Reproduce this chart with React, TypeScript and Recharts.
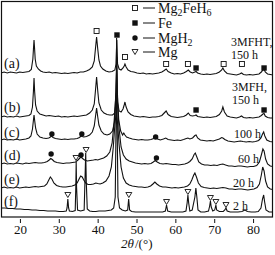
import { ComposedChart, Line, Scatter, XAxis, YAxis } from "recharts";

const W = 275;
const H = 255;
const FONT = '"Liberation Serif", "Times New Roman", serif';
const INK = "#111";

const angleTicks = [20, 30, 40, 50, 60, 70, 80];

// [2θ, intensity] with each trace's vertical offset already included
const patternA: [number, number][] = [
  [15, 144], [15.8, 145], [16.6, 144], [17.4, 145], [18.2, 144.5], [19, 144], [19.8, 145], [20.6, 144.5],
  [21.4, 145], [22.2, 145.5], [22.8, 147.5], [23.2, 158], [23.35, 168], [23.5, 177], [23.65, 168], [23.8, 158],
  [24.1, 151], [24.6, 148], [25.2, 146], [25.8, 145], [26.6, 144.5], [27.4, 145], [28.2, 144], [29, 144.5],
  [29.8, 144], [30.6, 143.5], [31.4, 144], [32.2, 143.5], [33, 144], [33.8, 144.5], [34.6, 144], [35.4, 145],
  [36.2, 145], [37, 146], [37.8, 147.5], [38.5, 150], [39, 156], [39.3, 168], [39.6, 180], [39.9, 168],
  [40.2, 157], [40.6, 151], [41.2, 148], [42, 146], [42.8, 145], [43.6, 145.5], [44.3, 147], [44.6, 153],
  [44.8, 177], [45, 153], [45.4, 148], [45.9, 147], [46.4, 149], [46.7, 151], [46.9, 153], [47.2, 150],
  [47.7, 147], [48.4, 145.5], [49.2, 145], [50, 144], [50.8, 143.5], [51.6, 144], [52.4, 143], [53.2, 143.5],
  [54, 143], [54.8, 143.5], [55.6, 144], [56.4, 145], [57, 146.5], [57.5, 148], [58, 145.5], [58.8, 144],
  [59.6, 143], [60.4, 143.5], [61.2, 143], [62, 144], [62.7, 145.5], [63.2, 147], [63.7, 145], [64.3, 144],
  [64.9, 145], [65.2, 145.5], [65.6, 144], [66.4, 143], [67.2, 142.5], [68, 143], [68.8, 142.5], [69.6, 143],
  [70.4, 143.5], [71.2, 145], [71.8, 147], [72.1, 149], [72.5, 146], [73.2, 143.5], [74, 143], [74.8, 142.5],
  [75.6, 142], [76.4, 143], [76.9, 144], [77.4, 142.5], [78.2, 142], [79, 142.5], [79.8, 142], [80.6, 142.5],
  [81.4, 143], [82, 145], [82.4, 147], [82.7, 148], [83, 145], [83.6, 143], [84.3, 142.5], [85, 142],
];

const patternB: [number, number][] = [
  [15, 100], [15.8, 101], [16.6, 100], [17.4, 100.5], [18.2, 100], [19, 101], [19.8, 100], [20.6, 100.5],
  [21.4, 101], [22.2, 101.5], [22.7, 103], [23.1, 110], [23.35, 126], [23.5, 139], [23.65, 126], [23.9, 112],
  [24.3, 106], [25, 103], [25.8, 102], [26.6, 101], [27.4, 101.5], [28.2, 101], [29, 100.5], [29.8, 101],
  [30.6, 100], [31.4, 100.5], [32.2, 100], [33, 100.5], [33.8, 101], [34.6, 100.5], [35.4, 101], [36.2, 101.5],
  [37, 102], [37.8, 104], [38.5, 107], [39, 113], [39.3, 126], [39.6, 140], [39.9, 126], [40.2, 114],
  [40.8, 107], [41.5, 104], [42.3, 102.5], [43, 102], [43.7, 102], [44.3, 104], [44.6, 115], [44.8, 160],
  [45, 115], [45.4, 106], [45.9, 105], [46.4, 108], [46.7, 112], [46.9, 115], [47.2, 110], [47.7, 105],
  [48.4, 102.5], [49.2, 101], [50, 100.5], [50.8, 100], [51.6, 100.5], [52.4, 100], [53.2, 99.5], [54, 100],
  [54.8, 100], [55.6, 100.5], [56.4, 101.5], [57, 104], [57.5, 106], [58, 102.5], [58.8, 100.5], [59.6, 100],
  [60.4, 99.5], [61.2, 100], [62, 100.5], [62.7, 102], [63.2, 104], [63.7, 101.5], [64.3, 101], [64.9, 101.5],
  [65.2, 102], [65.6, 100.5], [66.4, 100], [67.2, 99.5], [68, 100], [68.8, 99.5], [69.6, 100], [70.4, 100.5],
  [71.2, 102.5], [71.8, 106], [72.1, 110], [72.5, 105], [73.2, 101], [74, 100], [74.8, 99.5], [75.6, 99],
  [76.4, 100], [76.9, 101], [77.4, 99.5], [78.2, 99], [79, 99.5], [79.8, 99], [80.6, 99.5], [81.4, 100],
  [82, 101.5], [82.4, 103], [82.7, 103.5], [83, 101], [83.6, 99.5], [84.3, 99], [85, 99],
];

const patternC: [number, number][] = [
  [15, 77], [15.8, 78], [16.6, 77], [17.4, 77.5], [18.2, 77], [19, 78], [19.8, 77], [20.6, 77.5],
  [21.4, 78], [22.2, 79], [22.7, 81], [23.1, 88], [23.35, 97], [23.5, 102], [23.65, 97], [23.9, 89],
  [24.3, 83], [25, 80], [25.8, 79], [26.6, 78.5], [27.3, 79], [27.7, 80], [28, 81], [28.4, 79.5],
  [29, 78.5], [29.8, 78], [30.6, 77.5], [31.4, 78], [32.2, 77.5], [33, 78], [33.8, 78], [34.6, 78.5],
  [35.2, 79.5], [35.6, 81], [35.9, 80.5], [36.3, 80], [37, 80.5], [37.8, 82], [38.5, 85], [39, 91],
  [39.3, 100], [39.6, 109], [39.9, 100], [40.2, 92], [40.8, 86], [41.5, 83], [42.3, 82], [43, 83],
  [43.7, 86], [44.2, 95], [44.5, 120], [44.75, 147], [45, 120], [45.3, 97], [45.8, 86], [46.3, 82],
  [46.6, 84], [46.9, 82], [47.3, 80], [48, 79], [48.8, 78], [49.6, 77.5], [50.4, 77], [51.2, 77.5],
  [52, 77], [52.8, 77], [53.6, 77.5], [54.3, 78.5], [54.8, 79.5], [55.3, 78], [56, 77], [56.8, 78],
  [57.4, 79], [58, 77.5], [58.8, 77], [59.6, 76.5], [60.4, 77], [61.2, 76.5], [62, 77.5], [62.7, 78.5],
  [63.1, 79], [63.6, 78], [64.3, 79], [64.9, 81.5], [65.2, 82], [65.6, 79], [66.3, 77], [67.2, 76.5],
  [68, 76], [68.8, 76.5], [69.6, 76], [70.4, 77], [71.2, 78], [71.8, 79.5], [72.1, 79], [72.6, 77.5],
  [73.4, 76], [74.2, 75.5], [75, 75], [75.8, 75.5], [76.6, 76], [77.3, 75.5], [78.1, 75], [78.9, 75.5],
  [79.7, 75], [80.5, 75.5], [81.3, 76.5], [81.9, 79], [82.3, 83], [82.6, 85], [82.9, 81], [83.4, 77],
  [84.2, 75.5], [85, 75],
];

const patternD: [number, number][] = [
  [15, 53], [15.8, 54], [16.6, 53], [17.4, 53.5], [18.2, 53], [19, 54], [19.8, 53.5], [20.6, 53],
  [21.4, 54], [22.2, 53.5], [23, 54], [23.8, 54.5], [24.6, 54], [25.4, 54], [26.2, 54.5], [26.9, 55.5],
  [27.4, 57], [27.8, 58.5], [28.2, 57.5], [28.7, 55.5], [29.4, 54.5], [30.2, 54], [31, 53.5], [31.8, 54],
  [32.6, 54], [33.4, 54.5], [34.2, 55], [34.8, 57], [35.3, 59], [35.6, 60], [36, 58.5], [36.5, 57],
  [37.2, 56], [38, 56.5], [38.8, 57], [39.4, 57.5], [39.9, 57], [40.6, 58], [41.4, 59], [42.2, 61],
  [43, 65], [43.6, 74], [44.1, 95], [44.5, 118], [44.75, 125], [45, 112], [45.4, 88], [45.9, 70],
  [46.5, 62], [47.2, 58], [48, 56], [48.8, 55], [49.6, 54], [50.4, 53.5], [51.2, 53], [52, 53.5],
  [52.8, 53], [53.6, 53.5], [54.2, 55], [54.7, 56.5], [55.2, 55], [55.9, 53.5], [56.7, 53], [57.5, 53.5],
  [58.3, 53], [59.1, 52.5], [59.9, 52.5], [60.7, 52], [61.5, 52.5], [62.3, 53], [63, 54], [63.6, 55.5],
  [64.2, 58], [64.7, 62.5], [65, 64], [65.4, 60], [65.9, 55], [66.6, 53], [67.4, 52], [68.2, 52],
  [69, 51.5], [69.8, 52], [70.6, 51.5], [71.4, 52.5], [72.1, 53], [72.8, 52], [73.6, 51], [74.4, 51],
  [75.2, 50.5], [76, 51], [76.8, 51], [77.6, 50.5], [78.4, 50], [79.2, 50.5], [80, 50.5], [80.8, 51.5],
  [81.5, 55], [82, 62], [82.4, 68], [82.7, 66], [83.1, 58], [83.6, 53], [84.3, 51], [85, 50.5],
];

const patternE: [number, number][] = [
  [15, 29], [15.8, 30], [16.6, 29], [17.4, 29.5], [18.2, 29], [19, 30], [19.8, 29], [20.6, 29.5],
  [21.4, 30], [22.2, 29.5], [23, 30], [23.8, 30.5], [24.6, 30], [25.4, 30.5], [26.2, 31], [26.8, 33],
  [27.3, 37], [27.7, 40], [28.1, 38], [28.6, 34], [29.3, 31.5], [30.1, 30.5], [30.9, 30], [31.7, 30],
  [32.5, 30.5], [33.3, 31], [34, 32], [34.6, 34], [35.1, 38], [35.5, 41], [35.9, 40], [36.3, 37],
  [36.8, 34], [37.4, 32.5], [38.1, 32.5], [38.8, 33], [39.4, 34], [39.9, 33.5], [40.5, 33], [41.2, 34],
  [42, 36], [42.8, 41], [43.4, 50], [43.9, 70], [44.3, 92], [44.65, 105], [45, 94], [45.4, 72],
  [45.9, 50], [46.5, 39], [47.2, 34], [48, 32], [48.8, 31], [49.6, 30.5], [50.4, 30], [51.2, 30],
  [52, 29.5], [52.8, 30], [53.5, 31], [54.1, 33], [54.6, 35], [55.1, 33], [55.8, 31], [56.6, 30],
  [57.4, 30], [58.2, 29.5], [59, 29], [59.8, 29.5], [60.6, 29], [61.4, 29.5], [62.2, 30], [63, 31],
  [63.6, 33], [64.1, 37], [64.6, 42], [64.9, 44], [65.3, 40], [65.8, 34], [66.5, 30.5], [67.3, 29.5],
  [68.1, 29], [68.9, 28.5], [69.7, 29], [70.5, 28.5], [71.3, 29], [72.1, 29.5], [72.9, 29], [73.7, 28],
  [74.5, 28], [75.3, 27.5], [76.1, 28], [76.9, 28], [77.7, 27.5], [78.5, 27], [79.3, 27.5], [80.1, 28],
  [80.9, 29.5], [81.5, 33], [82, 42], [82.35, 50], [82.7, 46], [83.1, 36], [83.6, 30], [84.3, 28],
  [85, 27.5],
];

const patternF: [number, number][] = [
  [15, 9], [16, 9], [17, 8.5], [18, 8.5], [19, 8], [20, 8], [21, 7.5], [22, 7.5], [23, 7], [24, 7],
  [25, 6.5], [26, 6.5], [27, 6], [28, 6], [29, 6], [30, 5.5], [31, 5.5], [31.8, 6], [32, 9], [32.2, 18],
  [32.4, 9], [32.6, 6], [33.4, 5.5], [34.1, 6.5], [34.25, 30], [34.35, 55], [34.45, 30], [34.7, 7],
  [35.5, 6], [36.4, 7], [36.6, 35], [36.8, 64], [36.95, 35], [37.2, 8], [37.8, 6], [38.6, 5.5],
  [39.4, 5.5], [40.2, 6], [41, 6], [41.8, 6], [42.6, 6.5], [43.4, 7], [44, 9], [44.4, 20], [44.6, 90],
  [44.75, 179], [44.9, 90], [45.1, 20], [45.5, 9], [46.2, 7], [47, 6], [47.6, 7], [47.85, 18], [48.1, 7],
  [48.6, 5.5], [49.6, 5], [50.6, 5], [51.6, 5], [52.6, 5], [53.6, 5], [54.6, 5], [55.6, 5], [56.6, 5],
  [57.3, 6], [57.6, 12], [57.9, 6], [58.8, 5], [59.8, 5], [60.8, 5], [61.8, 5], [62.6, 6], [62.9, 14],
  [63.1, 22], [63.3, 14], [63.6, 6], [64.2, 7], [64.9, 20], [65.15, 29], [65.4, 20], [65.7, 7],
  [66.4, 5], [67.4, 5], [68.4, 6], [68.7, 11], [68.9, 16], [69.1, 10], [69.5, 6], [70, 7], [70.3, 12],
  [70.5, 7], [71.2, 5.5], [72.2, 5.5], [72.6, 7], [72.9, 9], [73.2, 6], [74, 5], [75, 5], [76, 5],
  [77, 5.5], [77.8, 7], [78.4, 5.5], [79.4, 5], [80.4, 5], [81.2, 5.5], [81.9, 9], [82.3, 18],
  [82.6, 22], [82.85, 15], [83.2, 7], [84, 5], [85, 5],
];

const patterns = [patternA, patternB, patternC, patternD, patternE, patternF];

// phase markers [2θ, intensity]
const mg2feh6Marks: [number, number][] = [[39.6, 186], [46.9, 160], [57.5, 153], [63.1, 153], [72.3, 153], [77.0, 153]];
const feMarks: [number, number][] = [[44.85, 182], [65.2, 149], [82.7, 149], [65.2, 107], [82.7, 107]];
const mgh2Marks: [number, number][] = [[28.1, 83], [35.8, 83], [54.8, 80], [27.9, 63], [35.6, 62], [55.0, 59]];
const mgMarks: [number, number][] = [[32.2, 22], [34.3, 59], [36.9, 67], [47.9, 22], [57.6, 15], [63.1, 25], [68.9, 19], [70.3, 15], [72.9, 12]];

const sampleLabels = ["(a)", "(b)", "(c)", "(d)", "(e)", "(f)"];
const timeLabels = [["3MFHT,", "150 h"], ["3MFH,", "150 h"], ["100 h"], ["60 h"], ["20 h"], ["2 h"]];

const toPts = (p: [number, number][]) => p.map(([x, y]) => ({ x, y }));

const OpenSquare = ({ cx, cy }: any) => (
  <rect x={cx - 2.5} y={cy - 2.5} width={5} height={5} fill="#fff" stroke={INK} strokeWidth={0.9} />
);
const FilledSquare = ({ cx, cy }: any) => <rect x={cx - 2.7} y={cy - 2.7} width={5.4} height={5.4} fill={INK} />;
const Dot = ({ cx, cy }: any) => <circle cx={cx} cy={cy} r={2.7} fill={INK} />;
const DownTri = ({ cx, cy }: any) => (
  <path d={`M${cx - 3},${cy - 2.5}L${cx + 3},${cy - 2.5}L${cx},${cy + 2.5}Z`} fill="#fff" stroke={INK} strokeWidth={0.9} />
);

const AngleTick = ({ x, y, payload }: any) => (
  <g>
    <line x1={x} y1={y} x2={x} y2={y - 4} stroke={INK} strokeWidth={1} />
    <text x={x} y={y + 11} textAnchor="middle" fontFamily={FONT} fontSize={13} fill={INK}>
      {payload.value}
    </text>
  </g>
);

const legendRows = [
  { y: 8, Mark: OpenSquare },
  { y: 23, Mark: FilledSquare },
  { y: 38, Mark: Dot },
  { y: 52, Mark: DownTri },
];

export default function App() {
  const sampleY = [68, 112, 137, 160, 184, 206];
  const timeY = [[46, 59], [91, 104], [138], [163], [187], [210]];
  const timeX = [231, 232, 234, 238, 233, 233];

  return (
    <div style={{ position: "absolute", left: 0, top: 0, width: W, height: H, background: "#fff" }}>
      <ComposedChart width={W} height={H} margin={{ top: 1, right: 2, bottom: 0, left: 1 }}>
        <XAxis
          type="number"
          dataKey="x"
          domain={[15, 85]}
          ticks={angleTicks}
          axisLine={false}
          tickLine={false}
          tickMargin={0}
          height={38}
          tick={<AngleTick />}
          allowDataOverflow
        />
        <YAxis type="number" domain={[0, 216]} hide allowDataOverflow />
        {patterns.map((p, i) => (
          <Line
            key={i}
            data={toPts(p)}
            dataKey="y"
            type="linear"
            stroke={INK}
            strokeWidth={1.1}
            dot={false}
            isAnimationActive={false}
          />
        ))}
        <Scatter data={toPts(mg2feh6Marks)} dataKey="y" shape={OpenSquare} isAnimationActive={false} />
        <Scatter data={toPts(feMarks)} dataKey="y" shape={FilledSquare} isAnimationActive={false} />
        <Scatter data={toPts(mgh2Marks)} dataKey="y" shape={Dot} isAnimationActive={false} />
        <Scatter data={toPts(mgMarks)} dataKey="y" shape={DownTri} isAnimationActive={false} />
      </ComposedChart>

      {/* frame, legend and labels */}
      <svg width={W} height={H} style={{ position: "absolute", left: 0, top: 0, pointerEvents: "none" }}>
        <rect x={1.5} y={1.5} width={271} height={215.5} fill="none" stroke={INK} strokeWidth={1.2} />

        {legendRows.map(({ y, Mark }, i) => (
          <g key={i}>
            <Mark cx={135} cy={y} />
            <line x1={143} x2={155} y1={y} y2={y} stroke={INK} strokeWidth={1} />
          </g>
        ))}
        <g fontFamily={FONT} fontSize={14} fill={INK}>
          <text x={158} y={13}>
            Mg<tspan fontSize={10} dy={3}>2</tspan>
            <tspan dy={-3}>FeH</tspan>
            <tspan fontSize={10} dy={3}>6</tspan>
          </text>
          <text x={158} y={28}>Fe</text>
          <text x={158} y={43}>
            MgH<tspan fontSize={10} dy={3}>2</tspan>
          </text>
          <text x={158} y={57}>Mg</text>

          {sampleLabels.map((s, i) => (
            <text key={s} x={4} y={sampleY[i]}>{s}</text>
          ))}
        </g>

        <g fontFamily={FONT} fontSize={12} fill={INK}>
          {timeLabels.map((lines, i) =>
            lines.map((t, j) => (
              <text key={`${i}-${j}`} x={timeX[i]} y={timeY[i][j]}>{t}</text>
            ))
          )}
        </g>
        <g fontFamily={FONT} fontSize={13} fill={INK}>
          <text x={121} y={248} fontStyle="italic">2θ</text>
          <text x={135} y={248}>/(°)</text>
        </g>
      </svg>
    </div>
  );
}
